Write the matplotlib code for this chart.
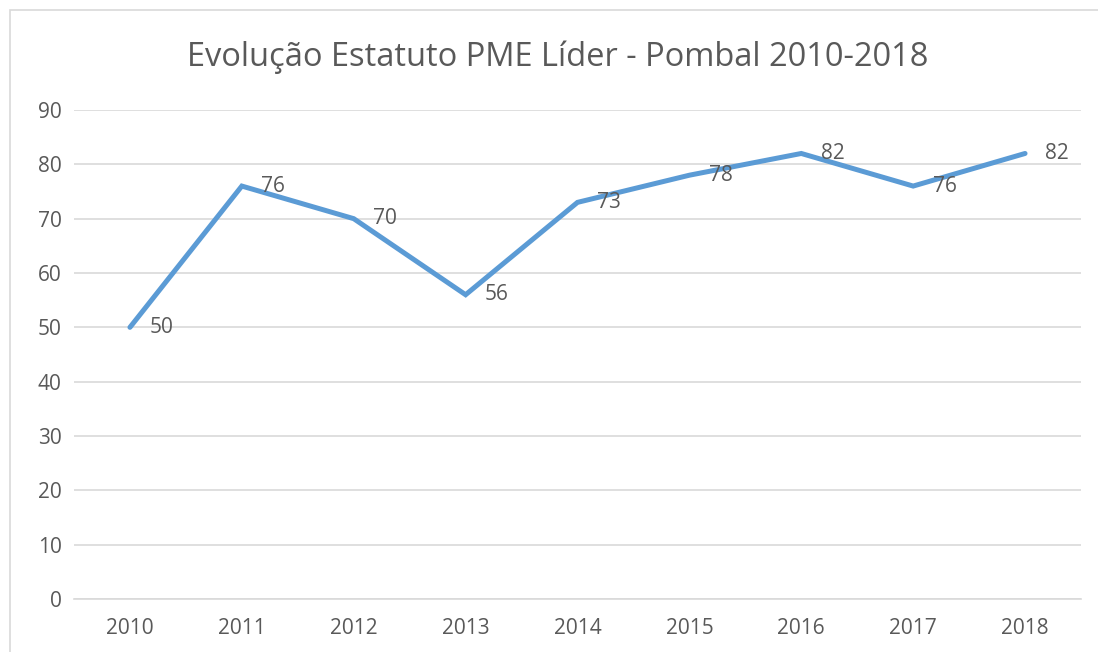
import matplotlib
matplotlib.use("Agg")
import matplotlib.pyplot as plt
from matplotlib.patches import Rectangle

years = ["2010", "2011", "2012", "2013", "2014", "2015", "2016", "2017", "2018"]
values = [50, 76, 70, 56, 73, 78, 82, 76, 82]
yticks = [0, 10, 20, 30, 40, 50, 60, 70, 80, 90]
title = "Evolução Estatuto PME Líder - Pombal 2010-2018"

plt.rcParams['font.family'] = ['Open Sans', 'DejaVu Sans']
txt = "#595959"

fig = plt.figure(figsize=(10.98, 6.52), dpi=100)
fig.patches.append(Rectangle((10/1098, -0.02), 1.05, 1 - 10/652 + 0.02,
                             transform=fig.transFigure, fill=False,
                             edgecolor="#D9D9D9", linewidth=1.2))
ax = fig.add_axes([74/1098, 1 - 599/652, (1081 - 74)/1098, (599 - 110)/652])
x = list(range(len(years)))
ax.plot(x, values, color="#5B9BD5", linewidth=3.6, solid_joinstyle="miter",
        solid_capstyle="round", zorder=3)
for xi, v in zip(x, values):
    ax.annotate(str(v), (xi, v), xytext=(14, 0), textcoords="offset points",
                ha="left", va="center", fontsize=15, color=txt, zorder=4)

ax.set_xlim(-0.5, len(years) - 0.5)
ax.set_ylim(0, 90)
ax.set_yticks(yticks)
ax.set_xticks(x)
ax.set_xticklabels(years)
ax.grid(axis="y", color="#D9D9D9", linewidth=1.2)
ax.set_axisbelow(True)
for s in ["top", "right", "left"]:
    ax.spines[s].set_visible(False)
ax.spines["bottom"].set_color("#D9D9D9")
ax.spines["bottom"].set_linewidth(1.2)
ax.tick_params(axis="both", length=0, labelsize=15, colors=txt)
ax.tick_params(axis="y", pad=9)
ax.tick_params(axis="x", pad=14)
fig.text(558/1098, 1 - 57/652, title, ha="center", va="center",
         fontsize=23.5, color=txt)

fig.savefig("out.png", dpi=100)
